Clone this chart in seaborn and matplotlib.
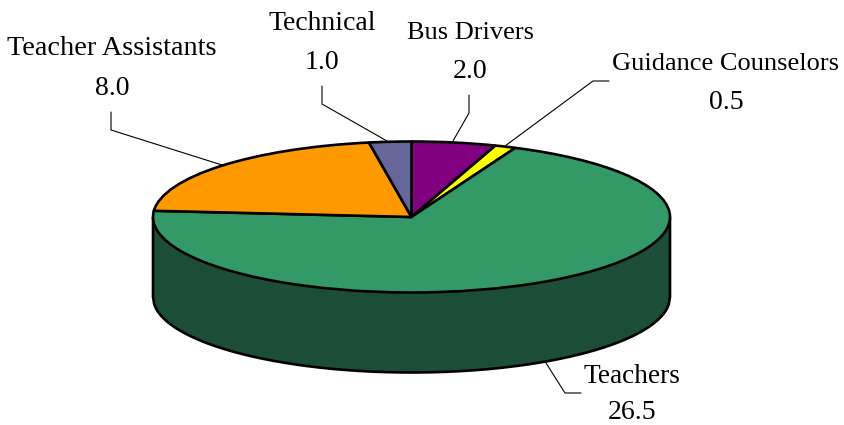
import numpy as np
import matplotlib
matplotlib.use("Agg")
import matplotlib.pyplot as plt
import seaborn as sns

sns.set_theme(style="white")
plt.rcParams['font.family'] = ['Liberation Serif', 'DejaVu Serif']

categories = ["Bus Drivers", "Guidance Counselors", "Teachers", "Teacher Assistants", "Technical"]
values = [2.0, 0.5, 26.5, 8.0, 1.0]
value_labels = ["2.0", "0.5", "26.5", "8.0", "1.0"]
colors = ["#800080", "#FFFF00", "#339966", "#FF9900", "#666699"]
wall_color = "#1C4D36"

W, H = 844, 425
fig = plt.figure(figsize=(W / 100, H / 100), dpi=100, facecolor="white")
# Plate geometry in pixels
cx0, cy0, rx, ry, depth = 411.5, 217, 258.5, 75.5, 80
edge = 1.9
ax = fig.add_axes([0, 0, 1, 1])
ax.pie(values, colors=colors, startangle=90, counterclock=False, radius=1,
       wedgeprops=dict(edgecolor="black", linewidth=edge, zorder=3, joinstyle="round"))
ax.set_aspect("auto")
ax.set_xlim((0 - cx0) / rx, (W - cx0) / rx)
ax.set_ylim((cy0 - H) / ry, cy0 / ry)
d = depth / ry

# Side wall of the plate
x = np.linspace(-1, 1, 400)
lower = -np.sqrt(1 - x ** 2)
ax.fill_between(x, lower - d, lower + 0.001, color=wall_color, lw=0, zorder=1)
ax.plot(np.r_[-1, x, 1], np.r_[0, lower - d, 0], color="black", lw=edge, zorder=2,
        solid_joinstyle="round")

def px(xp, yp):
    return (xp - cx0) / rx, (cy0 - yp) / ry

# name: (centre x, name baseline y, value baseline y, name font size, leader points)
layout = {
    "Bus Drivers": (470, 39, 78, 19.0, [(469, 95), (469, 113), (453, 141)]),
    "Guidance Counselors": (726, 70, 109, 19.0, [(609, 81), (593, 81), (505, 146)]),
    "Teachers": (632, 383, 419, 19.6, [(581, 393), (565, 393), (546, 363)]),
    "Teacher Assistants": (112, 55, 95, 20.3, [(111, 112), (111, 130), (222, 165)]),
    "Technical": (322, 30, 69, 20.0, [(322, 86), (322, 104), (387, 141)]),
}
for name, val in zip(categories, value_labels):
    cx, y1, y2, fs, pts = layout[name]
    ax.text(*px(cx, y1), name, ha="center", va="baseline", fontsize=fs,
            color="black", zorder=6, clip_on=False)
    ax.text(*px(cx, y2), val, ha="center", va="baseline", fontsize=20,
            color="black", zorder=6, clip_on=False)
    xs, ys = zip(*[px(*p) for p in pts])
    ax.plot(xs, ys, color="black", lw=0.8, zorder=5)

fig.savefig("out.png", dpi=100, facecolor="white")
